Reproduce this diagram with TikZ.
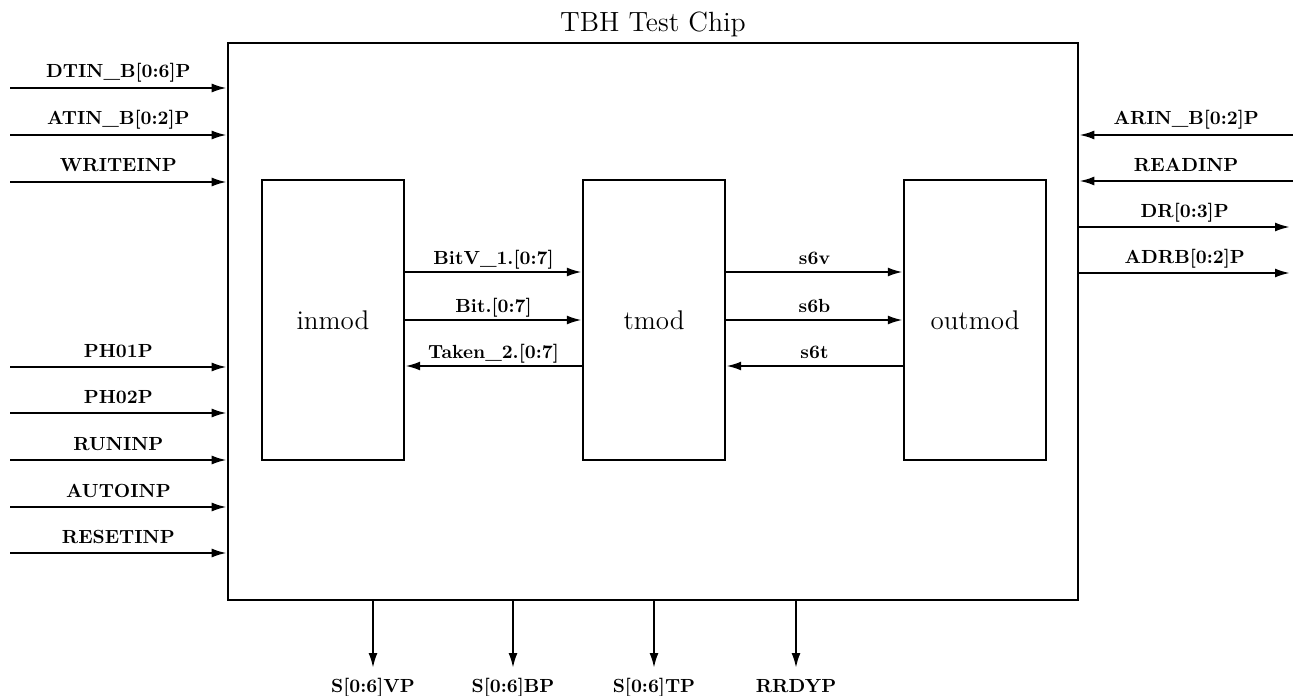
\documentclass[tikz,border=0pt]{standalone}
\usepackage{tikz}
\usetikzlibrary{arrows.meta, positioning}
\tikzset{
  chipbox/.style={rectangle, draw, line width=1.3pt, minimum width=425pt, minimum height=278.5pt},
  module/.style={rectangle, draw, line width=1.2pt, minimum width=71pt, minimum height=140pt, font=\fontsize{13.5}{16}\selectfont},
  sig/.style={line width=1.1pt, -{Latex[length=7.5pt, width=4.5pt]}},
  pinlabel/.style={anchor=base, inner sep=0pt, yshift=5pt, font=\fontsize{9.5}{11}\selectfont\bfseries},
  siglabel/.style={anchor=base, inner sep=0pt, yshift=4pt, font=\fontsize{9.5}{11}\selectfont\bfseries},
  outlabel/.style={anchor=base, inner sep=0pt, yshift=-12pt, font=\fontsize{9.5}{11}\selectfont\bfseries}
}
\begin{document}
\begin{tikzpicture}[x=0.5pt, y=-0.5pt]
    \useasboundingbox (0,0) rectangle (1293,695);

    \node[chipbox] (chip) at (653,321.5) {};
    \node[anchor=base, font=\fontsize{13.9}{16}\selectfont] (title) at ([yshift=5pt]chip.north) {TBH Test Chip};

    \node[module] (inmod) at (333,320) {inmod};
    \node[module, right=88.3pt of inmod] (tmod) {tmod};
    \node[module, right=88.3pt of tmod] (outmod) {outmod};

    % inputs on the left
    \foreach \y/\txt [count=\i] in {88/{DTIN\_B[0:6]P}, 135/{ATIN\_B[0:2]P}, 182/WRITEINP,
        367/PH01P, 413/PH02P, 460/RUNINP, 507/AUTOINP, 553/RESETINP} {
      \coordinate (lin\i) at (10,\y);
      \draw[sig] (lin\i) -- (lin\i -| chip.west) node[pinlabel, midway] {\txt};
    }

    % right side
    \coordinate (arin) at (1293,135);
    \coordinate (readin) at (1293,181);
    \coordinate (drout) at (1290,227);
    \coordinate (adrbout) at (1290,273);
    \draw[sig] (arin) -- (arin -| chip.east) node[pinlabel, midway] {ARIN\_B[0:2]P};
    \draw[sig] (readin) -- (readin -| chip.east) node[pinlabel, midway] {READINP};
    \draw[sig] (drout -| chip.east) -- (drout) node[pinlabel, midway] {DR[0:3]P};
    \draw[sig] (adrbout -| chip.east) -- (adrbout) node[pinlabel, midway] {ADRB[0:2]P};

    % outputs at the bottom
    \foreach \x/\txt [count=\i] in {373/{S[0:6]VP}, 513/{S[0:6]BP}, 654/{S[0:6]TP}, 796/RRDYP} {
      \coordinate (bout\i) at (\x,668);
      \draw[sig] (bout\i |- chip.south) -- (bout\i) node[outlabel] {\txt};
    }

    % internal signals
    \draw[sig] ([yshift=24pt]inmod.east) -- ([yshift=24pt]tmod.west) node[siglabel, midway] {BitV\_1.[0:7]};
    \draw[sig] (inmod.east) -- (tmod.west) node[siglabel, midway] {Bit.[0:7]};
    \draw[sig] ([yshift=-23pt]tmod.west) -- ([yshift=-23pt]inmod.east) node[siglabel, midway] {Taken\_2.[0:7]};
    \draw[sig] ([yshift=24pt]tmod.east) -- ([yshift=24pt]outmod.west) node[siglabel, midway] {s6v};
    \draw[sig] (tmod.east) -- (outmod.west) node[siglabel, midway] {s6b};
    \draw[sig] ([yshift=-23pt]outmod.west) -- ([yshift=-23pt]tmod.east) node[siglabel, midway] {s6t};
  \end{tikzpicture}
\end{document}
